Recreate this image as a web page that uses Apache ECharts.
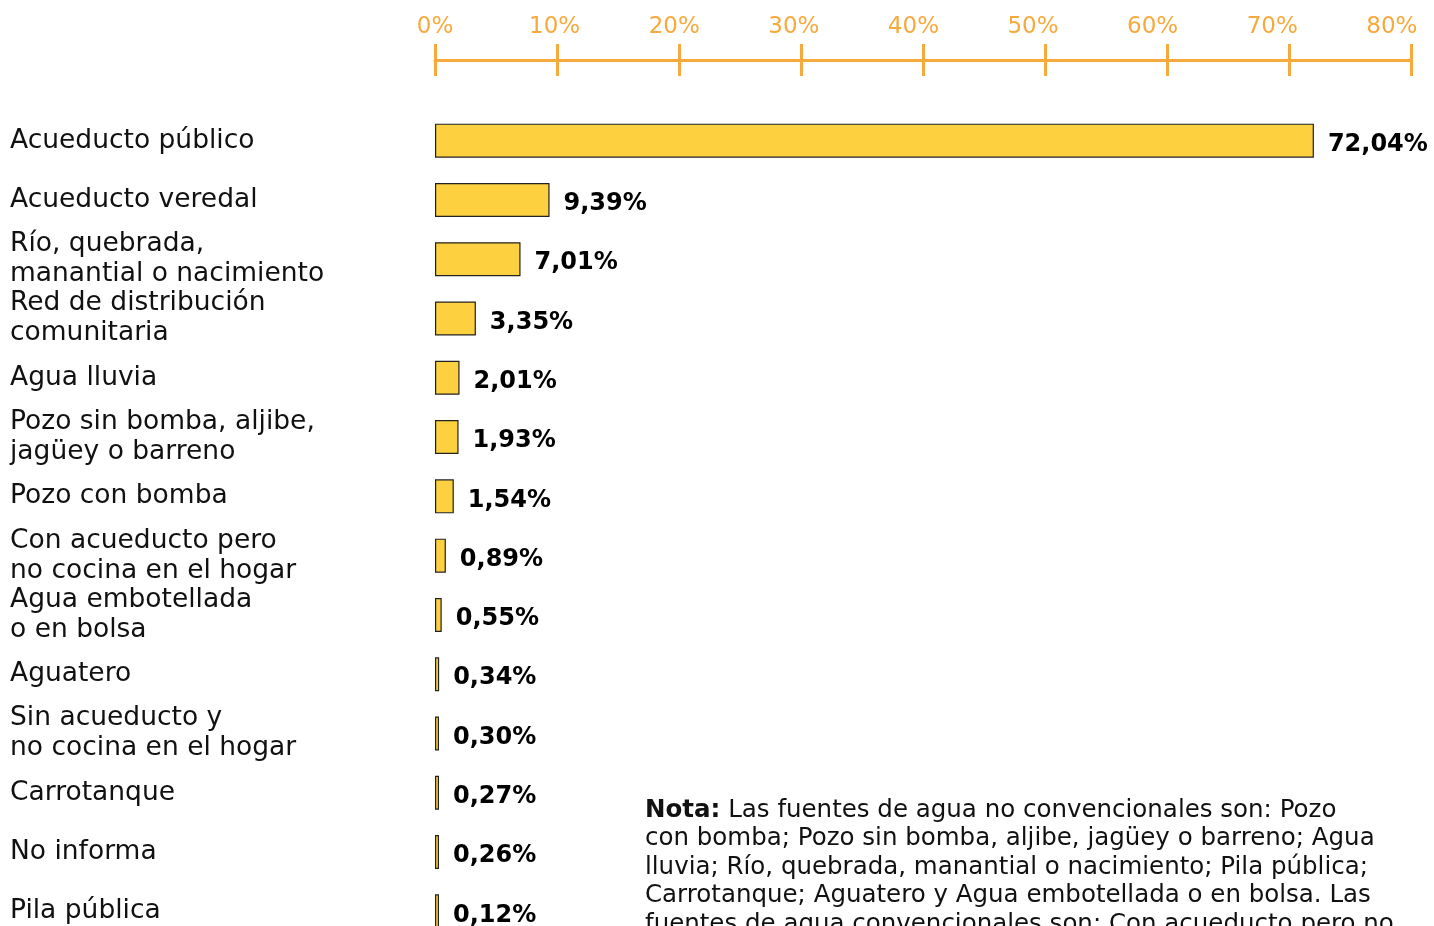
<!DOCTYPE html>
<html>
<head>
<meta charset="utf-8">
<script src="https://cdn.jsdelivr.net/npm/echarts@6/dist/echarts.min.js"></script>
<style>
  html, body { margin: 0; padding: 0; background: #fff; }
  #main { width: 1434px; height: 926px; }
</style>
</head>
<body>
<div id="main"></div>
<script>
// fuentes de agua, de arriba hacia abajo
const categories = [
  'Acueducto público',
  'Acueducto veredal',
  'Río, quebrada,\nmanantial o nacimiento',
  'Red de distribución\ncomunitaria',
  'Agua lluvia',
  'Pozo sin bomba, aljibe,\njagüey o barreno',
  'Pozo con bomba',
  'Con acueducto pero\nno cocina en el hogar',
  'Agua embotellada\no en bolsa',
  'Aguatero',
  'Sin acueducto y\nno cocina en el hogar',
  'Carrotanque',
  'No informa',
  'Pila pública'
];
const values = [72.04, 9.39, 7.01, 3.35, 2.01, 1.93, 1.54, 0.89, 0.55, 0.34, 0.30, 0.27, 0.26, 0.12];
const tickValues = [0, 10, 20, 30, 40, 50, 60, 70, 80];

const ORANGE = '#F7A93C';
const FONT = 'DejaVu Sans';

const chart = echarts.init(document.getElementById('main'));

const fmtPct = v => v.toFixed(2).replace('.', ',') + '%';

chart.setOption({
  animation: false,
  textStyle: { fontFamily: FONT },
  grid: { left: 435, right: 23, top: 111, bottom: -15, outerBoundsMode: 'none', containLabel: false },
  xAxis: [
    {
      // escala de las barras: linea + marcas hacia arriba
      type: 'value', position: 'top', offset: 51,
      min: 0, max: 80, interval: 10,
      axisLine: { show: true, lineStyle: { color: ORANGE, width: 3 } },
      axisTick: { show: true, length: 16, lineStyle: { color: ORANGE, width: 3 } },
      axisLabel: { show: false },
      splitLine: { show: false }
    },
    {
      // marcas hacia abajo
      type: 'value', position: 'top', offset: 51,
      min: 0, max: 80, interval: 10,
      axisLine: { show: false },
      axisTick: { show: true, inside: true, length: 16, lineStyle: { color: ORANGE, width: 3 } },
      axisLabel: { show: false },
      splitLine: { show: false }
    },
    {
      // etiquetas (algo mas juntas que las marcas)
      type: 'value', position: 'top', offset: 51,
      min: 0, max: 81.6, interval: 10,
      axisLine: { show: false },
      axisTick: { show: false },
      splitLine: { show: false },
      axisLabel: {
        show: true, margin: 21, color: ORANGE, fontSize: 23, fontFamily: FONT,
        showMaxLabel: false,
        formatter: v => tickValues.includes(v) ? v + '%' : ''
      }
    }
  ],
  yAxis: {
    type: 'category',
    data: categories,
    inverse: true,
    axisLine: { show: false },
    axisTick: { show: false },
    axisLabel: {
      align: 'left', margin: 425, color: '#111', fontSize: 26.5, lineHeight: 30,
      fontFamily: FONT, padding: [3, 0, 0, 0]
    }
  },
  series: [{
    type: 'bar',
    xAxisIndex: 0,
    data: values,
    barWidth: 34,
    barMinHeight: 4,
    itemStyle: { color: '#FDD03F', borderColor: '#222', borderWidth: 1.2 },
    label: {
      show: true, position: 'right', distance: 14, offset: [0, 4],
      color: '#000', fontWeight: 'bold', fontSize: 24, fontFamily: FONT,
      formatter: p => fmtPct(p.value)
    }
  }],
  graphic: [{
    type: 'text',
    left: 645,
    top: 796,
    style: {
      text: '{b|Nota:} Las fuentes de agua no convencionales son: Pozo\n' +
            'con bomba; Pozo sin bomba, aljibe, jagüey o barreno; Agua\n' +
            'lluvia; Río, quebrada, manantial o nacimiento; Pila pública;\n' +
            'Carrotanque; Aguatero y Agua embotellada o en bolsa. Las\n' +
            'fuentes de agua convencionales son: Con acueducto pero no',
      font: '24.5px "DejaVu Sans"',
      fill: '#111',
      lineHeight: 28.5,
      rich: {
        b: { fontWeight: 'bold', fontSize: 24.5, fontFamily: FONT, fill: '#111', lineHeight: 28.5 }
      }
    }
  }]
});
</script>
</body>
</html>
